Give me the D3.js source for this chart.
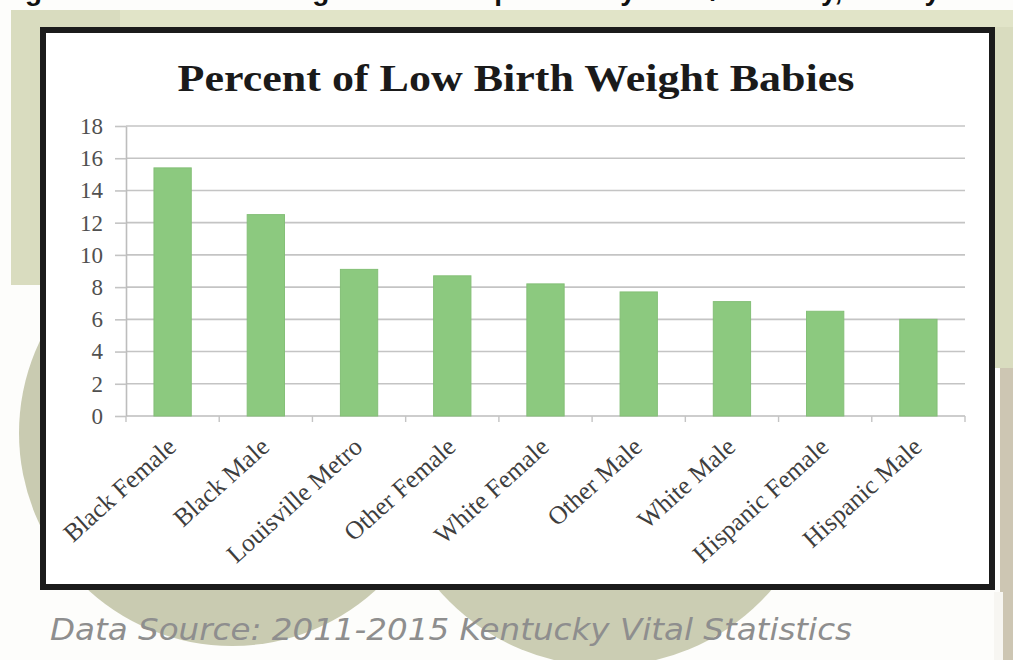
<!DOCTYPE html>
<html>
<head>
<meta charset="utf-8">
<script src="https://cdn.jsdelivr.net/npm/d3@7"></script>
<style>
  html, body { margin: 0; padding: 0; background: #ffffff; }
  svg { display: block; }
</style>
</head>
<body>
<svg id="chart" width="1013" height="660"></svg>
<script>
// ---- data ----
const categories = ["Black Female", "Black Male", "Louisville Metro", "Other Female",
  "White Female", "Other Male", "White Male", "Hispanic Female", "Hispanic Male"];
const percentValues = [15.4, 12.5, 9.1, 8.7, 8.2, 7.7, 7.1, 6.5, 6.0];
const yTickValues = [0, 2, 4, 6, 8, 10, 12, 14, 16, 18];
const chartTitle = "Percent of Low Birth Weight Babies";
const sourceNote = "Data Source: 2011-2015 Kentucky Vital Statistics";
const captionLine = "Figure 9: Low Birth Weight Rate Comparison by Race/Ethnicity, and by Gender";

const svg = d3.select("#chart");

// ---- slide backdrop ----
const bg = svg.append("g");
bg.append("rect").attr("x", 0).attr("y", 0).attr("width", 1013).attr("height", 660).attr("fill", "#fdfdfb");
bg.append("rect").attr("x", 11).attr("y", 10).attr("width", 1002).attr("height", 275).attr("fill", "#d9dcbf");
bg.append("rect").attr("x", 120).attr("y", 10).attr("width", 893).attr("height", 17).attr("fill", "#e1e4c8");
bg.append("rect").attr("x", 990).attr("y", 280).attr("width", 23).attr("height", 88).attr("fill", "#d9dcbf");
bg.append("rect").attr("x", 1000).attr("y", 368).attr("width", 13).attr("height", 292).attr("fill", "#cdc6b3");
bg.append("rect").attr("x", 994).attr("y", 592).attr("width", 9).attr("height", 68).attr("fill", "#f7f6f2");
bg.append("circle").attr("cx", 232).attr("cy", 433).attr("r", 213).attr("fill", "#c9cbb1");
bg.append("circle").attr("cx", 605).attr("cy", 446).attr("r", 220).attr("fill", "#cbcdb3");

// caption line running off the top edge of the slide
svg.append("text")
  .attr("x", 0).attr("y", 0)
  .attr("font-family", "Liberation Sans, Arial, sans-serif")
  .attr("font-weight", "bold")
  .attr("font-size", 28)
  .attr("fill", "#111")
  .text(captionLine);

// ---- chart frame ----
svg.append("rect")
  .attr("x", 43).attr("y", 30).attr("width", 949).attr("height", 557)
  .attr("fill", "#ffffff").attr("stroke", "#1b1b1b").attr("stroke-width", 6);

// ---- scales ----
const plotLeft = 126, plotRight = 965, plotTop = 126, plotBottom = 416;
const x = d3.scaleBand().domain(categories).range([plotLeft, plotRight])
  .paddingInner(0.6).paddingOuter(0.3);
const y = d3.scaleLinear().domain([0, 18]).range([plotBottom, plotTop]);

// ---- gridlines ----
svg.append("g").selectAll("line").data(yTickValues.filter(d => d > 0)).join("line")
  .attr("x1", plotLeft).attr("x2", plotRight)
  .attr("y1", d => y(d)).attr("y2", d => y(d))
  .attr("stroke", "#c4c4c4").attr("stroke-width", 1.6);

// ---- y axis ----
const yAxis = svg.append("g")
  .attr("transform", `translate(${plotLeft},0)`)
  .call(d3.axisLeft(y).tickValues(yTickValues).tickSize(11).tickSizeOuter(0).tickPadding(12));
yAxis.select(".domain").attr("stroke", "#bdbdbd").attr("stroke-width", 1.6);
yAxis.selectAll(".tick line").attr("stroke", "#c4c4c4").attr("stroke-width", 1.6);
yAxis.selectAll(".tick text")
  .attr("font-family", "Liberation Serif, Times New Roman, serif")
  .attr("font-size", 23).attr("fill", "#505050");

// ---- x axis ----
svg.append("line")
  .attr("x1", plotLeft).attr("x2", plotRight)
  .attr("y1", plotBottom).attr("y2", plotBottom)
  .attr("stroke", "#bdbdbd").attr("stroke-width", 1.6);
const boundaries = d3.range(categories.length + 1).map(i => plotLeft + i * x.step());
svg.append("g").selectAll("line").data(boundaries).join("line")
  .attr("x1", d => d).attr("x2", d => d)
  .attr("y1", plotBottom).attr("y2", plotBottom + 6)
  .attr("stroke", "#c4c4c4").attr("stroke-width", 1.4);

// ---- bars ----
svg.append("g").selectAll("rect").data(categories).join("rect")
  .attr("x", d => x(d))
  .attr("y", (d, i) => y(percentValues[i]))
  .attr("width", x.bandwidth())
  .attr("height", (d, i) => y(0) - y(percentValues[i]))
  .attr("fill", "#8cc97f")
  .attr("stroke", "#84bf77").attr("stroke-width", 1);

// ---- category labels ----
svg.append("g").selectAll("text").data(categories).join("text")
  .attr("transform", d => {
    const px = x(d) + x.bandwidth() / 2 + 5, py = 449;
    return `translate(${px},${py}) rotate(-42)`;
  })
  .attr("text-anchor", "end")
  .attr("font-family", "Liberation Serif, Times New Roman, serif")
  .attr("font-size", 25.5)
  .attr("fill", "#3e3e3e")
  .text(d => d);

// ---- title ----
svg.append("text")
  .attr("x", 516).attr("y", 91)
  .attr("text-anchor", "middle")
  .attr("font-family", "Liberation Serif, Times New Roman, serif")
  .attr("font-weight", "bold")
  .attr("font-size", 37)
  .attr("fill", "#1a1a1a")
  .attr("textLength", 677).attr("lengthAdjust", "spacingAndGlyphs")
  .text(chartTitle);

// ---- source note ----
svg.append("text")
  .attr("x", 50).attr("y", 640)
  .attr("font-family", "DejaVu Sans, Verdana, sans-serif")
  .attr("font-style", "italic")
  .attr("font-size", 30)
  .attr("fill", "#8e8e8e")
  .attr("textLength", 802).attr("lengthAdjust", "spacingAndGlyphs")
  .text(sourceNote);
</script>
</body>
</html>
